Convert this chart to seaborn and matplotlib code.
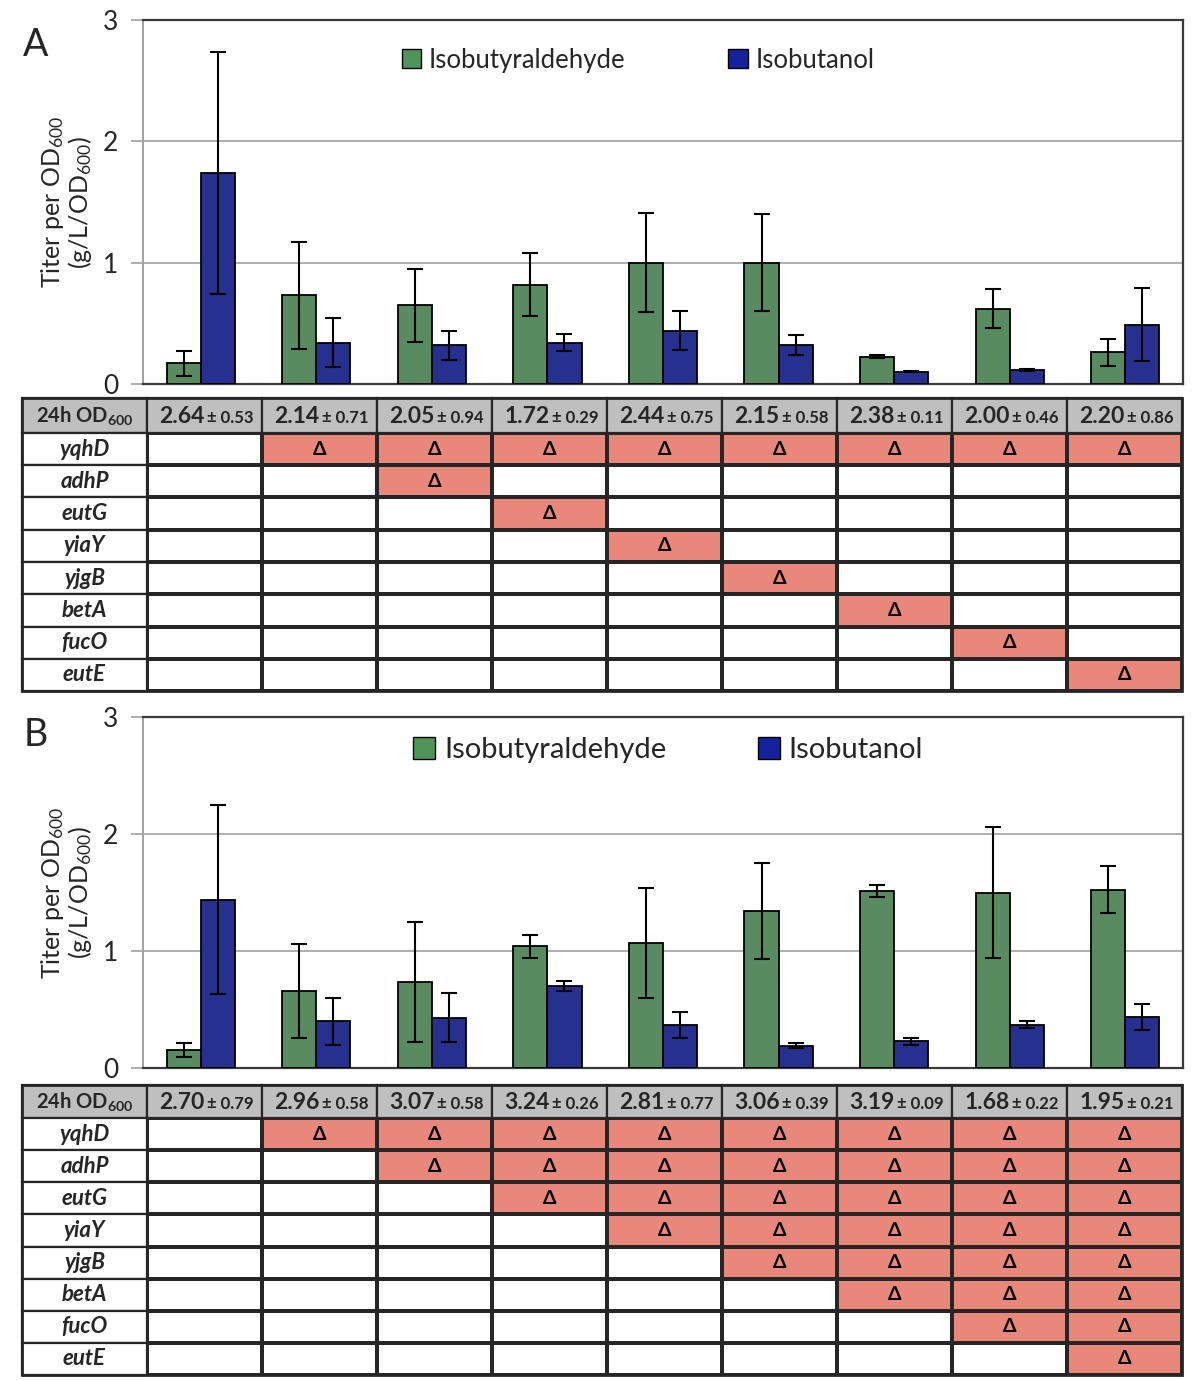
import numpy as np
import pandas as pd
import matplotlib
matplotlib.use("Agg")
import matplotlib.pyplot as plt
import seaborn as sns
from matplotlib.colors import ListedColormap
from matplotlib.patches import Rectangle, Patch

# ---------------- data ----------------
strains = ["1", "2", "3", "4", "5", "6", "7", "8", "9"]
compounds = ["Isobutyraldehyde", "Isobutanol"]
genes = ["yqhD", "adhP", "eutG", "yiaY", "yjgB", "betA", "fucO", "eutE"]

# Panel A
a_ald = [0.17, 0.73, 0.65, 0.82, 1.00, 1.00, 0.225, 0.62, 0.26]
a_ald_err = [0.10, 0.44, 0.30, 0.26, 0.41, 0.40, 0.01, 0.16, 0.11]
a_ol = [1.74, 0.34, 0.32, 0.34, 0.44, 0.32, 0.10, 0.115, 0.49]
a_ol_err = [1.00, 0.20, 0.12, 0.07, 0.16, 0.08, 0.005, 0.01, 0.30]
a_od = ["2.64", "2.14", "2.05", "1.72", "2.44", "2.15", "2.38", "2.00", "2.20"]
a_od_sd = ["0.53", "0.71", "0.94", "0.29", "0.75", "0.58", "0.11", "0.46", "0.86"]
a_del = [  # rows = genes, cols = strains
    [0, 1, 1, 1, 1, 1, 1, 1, 1],
    [0, 0, 1, 0, 0, 0, 0, 0, 0],
    [0, 0, 0, 1, 0, 0, 0, 0, 0],
    [0, 0, 0, 0, 1, 0, 0, 0, 0],
    [0, 0, 0, 0, 0, 1, 0, 0, 0],
    [0, 0, 0, 0, 0, 0, 1, 0, 0],
    [0, 0, 0, 0, 0, 0, 0, 1, 0],
    [0, 0, 0, 0, 0, 0, 0, 0, 1],
]

# Panel B
b_ald = [0.15, 0.66, 0.735, 1.04, 1.07, 1.34, 1.51, 1.50, 1.525]
b_ald_err = [0.06, 0.40, 0.51, 0.10, 0.47, 0.41, 0.05, 0.56, 0.20]
b_ol = [1.44, 0.40, 0.43, 0.70, 0.365, 0.19, 0.23, 0.37, 0.435]
b_ol_err = [0.81, 0.20, 0.21, 0.04, 0.11, 0.02, 0.03, 0.03, 0.11]
b_od = ["2.70", "2.96", "3.07", "3.24", "2.81", "3.06", "3.19", "1.68", "1.95"]
b_od_sd = ["0.79", "0.58", "0.58", "0.26", "0.77", "0.39", "0.09", "0.22", "0.21"]
b_del = [
    [0, 1, 1, 1, 1, 1, 1, 1, 1],
    [0, 0, 1, 1, 1, 1, 1, 1, 1],
    [0, 0, 0, 1, 1, 1, 1, 1, 1],
    [0, 0, 0, 0, 1, 1, 1, 1, 1],
    [0, 0, 0, 0, 0, 1, 1, 1, 1],
    [0, 0, 0, 0, 0, 0, 1, 1, 1],
    [0, 0, 0, 0, 0, 0, 0, 1, 1],
    [0, 0, 0, 0, 0, 0, 0, 0, 1],
]

# ---------------- style ----------------
sns.set_theme(style="white")
plt.rcParams["font.family"] = ["Lato", "DejaVu Sans"]
plt.rcParams["mathtext.fontset"] = "custom"
plt.rcParams["mathtext.rm"] = "Lato"
plt.rcParams["mathtext.it"] = "Lato:italic"
plt.rcParams["mathtext.bf"] = "Lato:bold"

GREEN = "#4f955a"
BLUE = "#1522a0"
SALMON = "#e9877a"
HEADER = "#bfbfbf"
LINE = "#262626"

W, H = 1200, 1380
fig = plt.figure(figsize=(W / 100, H / 100), dpi=100)


def px_axes(left, top, right, bottom):
    return fig.add_axes([left / W, 1 - bottom / H, (right - left) / W, (bottom - top) / H])


def draw_bars(ax, ald, ald_err, ol, ol_err, legend_size, legend_anchor, colspace):
    df = pd.DataFrame({
        "strain": strains * 2,
        "compound": [compounds[0]] * len(strains) + [compounds[1]] * len(strains),
        "titer": ald + ol,
    })
    sns.barplot(data=df, x="strain", y="titer", hue="compound", order=strains,
                hue_order=compounds, palette=[GREEN, BLUE], width=0.59, gap=0,
                edgecolor="black", linewidth=1.3, errorbar=None, legend=False,
                ax=ax, zorder=3)
    for cont, err in zip(ax.containers, [ald_err, ol_err]):
        xs = [b.get_x() + b.get_width() / 2 for b in cont]
        ys = [b.get_height() for b in cont]
        ax.errorbar(xs, ys, yerr=err, fmt="none", ecolor="black", elinewidth=1.5,
                    capsize=6, capthick=1.5, zorder=4)
    ax.set_ylim(0, 3)
    ax.set_xlim(-0.5, len(strains) - 0.5)
    ax.set_yticks([0, 1, 2, 3])
    ax.set_yticklabels(["0", "1", "2", "3"], fontsize=19)
    ax.set_xticks([])
    ax.set_xlabel("")
    ax.set_axisbelow(True)
    ax.yaxis.grid(True, color="#a8a8a8", lw=1.3)
    ax.tick_params(axis="y", which="major", left=True, length=9, width=1.2,
                   color="#a0a0a0", pad=9)
    for s in ["top", "right", "bottom"]:
        ax.spines[s].set_color("#3a3a3a")
        ax.spines[s].set_linewidth(1.6)
    ax.spines["left"].set_color("#a0a0a0")
    ax.spines["left"].set_linewidth(1.4)
    ax.set_ylabel("Titer per OD$_{600}$\n(g/L/OD$_{600}$)", fontsize=18, linespacing=1.0)
    ax.yaxis.set_label_coords(-0.047, 0.5)
    handles = [Patch(facecolor=GREEN, edgecolor="black", lw=1.0),
               Patch(facecolor=BLUE, edgecolor="black", lw=1.0)]
    ax.legend(handles, compounds, loc="center", bbox_to_anchor=legend_anchor,
              ncol=2, frameon=False, fontsize=legend_size, handlelength=0.75,
              handleheight=0.75, handletextpad=0.3, columnspacing=colspace)


def draw_table(tax, mat, od, od_sd, hh):
    mat = np.array(mat)
    annot = np.where(mat == 1, "Δ", "")
    sns.heatmap(mat, ax=tax, cmap=ListedColormap(["white", SALMON]), vmin=0, vmax=1,
                cbar=False, linewidths=1.6, linecolor=LINE, annot=annot, fmt="",
                annot_kws=dict(fontsize=14, fontweight="bold", color="black"),
                xticklabels=False, yticklabels=False)
    x0w = 125 / 115
    ncol = mat.shape[1]
    nrow = mat.shape[0]
    tax.set_xlim(-x0w, ncol)
    tax.set_ylim(nrow, -hh)
    # header row
    tax.add_patch(Rectangle((-x0w, -hh), x0w, hh, fc=HEADER, ec=LINE, lw=1.6, clip_on=False))
    tax.text(-x0w / 2, -hh / 2, r"24h OD$_\mathbf{600}$", ha="center", va="center",
             fontsize=14.5, fontweight="bold")
    for j in range(ncol):
        tax.add_patch(Rectangle((j, -hh), 1, hh, fc=HEADER, ec=LINE, lw=1.6, clip_on=False))
        tax.text(j + 0.50, -hh / 2 + 0.03, od[j], ha="right", va="center",
                 fontsize=16.5, fontweight="bold")
        tax.text(j + 0.525, -hh / 2 + 0.07, "± " + od_sd[j], ha="left", va="center",
                 fontsize=12, fontweight="bold", color="#222222")
    # gene column
    for i in range(nrow):
        tax.add_patch(Rectangle((-x0w, i), x0w, 1, fc="white", ec=LINE, lw=1.6, clip_on=False))
        tax.text(-x0w / 2, i + 0.5, genes[i], ha="center", va="center",
                 fontsize=16, fontweight="bold", fontstyle="italic")
    tax.add_patch(Rectangle((-x0w, -hh), x0w + ncol, nrow + hh, fill=False, ec=LINE,
                            lw=2.0, clip_on=False, zorder=5))
    tax.axis("off")


# ---------------- panel A ----------------
axA = px_axes(143, 20, 1183, 384)
draw_bars(axA, a_ald, a_ald_err, a_ol, a_ol_err, 18.5, (0.476, 0.89), 4.0)
tA = px_axes(22, 398, 1182, 691)
draw_table(tA, a_del, a_od, a_od_sd, 35 / 32.25)

# ---------------- panel B ----------------
axB = px_axes(143, 717, 1183, 1068)
draw_bars(axB, b_ald, b_ald_err, b_ol, b_ol_err, 21, (0.505, 0.906), 3.15)
tB = px_axes(22, 1085, 1182, 1375)
draw_table(tB, b_del, b_od, b_od_sd, 33 / 32.1)

fig.text(36 / W, 1 - 45 / H, "A", fontsize=27, ha="center", va="center")
fig.text(36 / W, 1 - 735 / H, "B", fontsize=27, ha="center", va="center")

fig.savefig("out.png", dpi=100)
